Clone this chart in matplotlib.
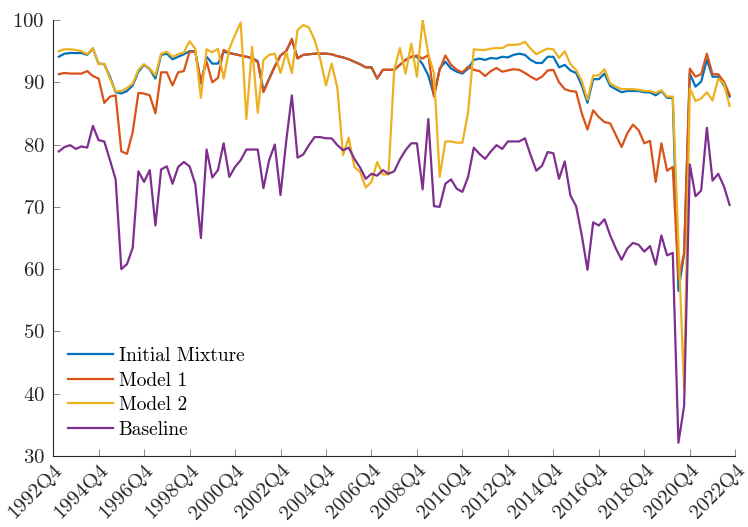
import numpy as np
import matplotlib
matplotlib.use("Agg")
import matplotlib.pyplot as plt

# Dati trimestrali 1993Q1 - 2022Q3
primo_anno = 1993
n_trim = 119

initial_mixture = [
    94.1, 94.6, 94.7, 94.7, 94.7, 94.4, 95.4, 93.0, 92.9, 90.9,
    88.4, 88.2, 88.6, 89.5, 91.7, 92.8, 92.1, 90.6, 94.4, 94.6,
    93.7, 94.1, 94.5, 95.0, 95.0, 89.8, 94.1, 93.0, 93.0, 94.9,
    94.7, 94.5, 94.3, 94.1, 93.9, 93.4, 88.6, 90.6, 92.6, 94.3,
    95.0, 96.8, 93.9, 94.4, 94.5, 94.6, 94.6, 94.6, 94.5, 94.2,
    94.0, 93.7, 93.3, 92.9, 92.4, 92.4, 90.6, 92.0, 92.0, 92.0,
    92.8, 93.6, 94.1, 94.1, 92.9, 91.1, 87.9, 92.2, 93.3, 92.2,
    91.7, 91.4, 92.2, 93.6, 93.8, 93.6, 93.9, 93.8, 94.1, 94.0,
    94.4, 94.6, 94.4, 93.6, 93.1, 93.1, 94.1, 94.1, 92.4, 92.8,
    91.9, 91.5, 89.5, 86.7, 90.5, 90.5, 91.4, 89.4, 88.9, 88.4,
    88.6, 88.6, 88.6, 88.4, 88.4, 87.9, 88.6, 87.5, 87.5, 56.5,
    62.5, 91.4, 89.3, 90.1, 93.6, 90.9, 90.9, 89.5, 87.7,
]

model1 = [
    91.3, 91.5, 91.4, 91.4, 91.4, 91.8, 91.0, 90.6, 86.7, 87.7,
    87.9, 78.9, 78.5, 82.0, 88.3, 88.2, 87.9, 85.0, 91.6, 91.6,
    89.5, 91.6, 91.8, 94.9, 94.9, 90.1, 93.3, 90.0, 90.7, 95.2,
    94.7, 94.5, 94.3, 94.1, 93.9, 93.2, 88.4, 90.5, 92.5, 94.3,
    95.0, 97.0, 93.8, 94.4, 94.5, 94.6, 94.6, 94.6, 94.5, 94.2,
    94.0, 93.7, 93.3, 92.9, 92.4, 92.4, 90.6, 92.0, 92.0, 92.0,
    92.8, 93.6, 94.1, 94.3, 93.8, 94.4, 87.7, 92.0, 94.3, 92.8,
    92.0, 91.6, 92.5, 92.0, 91.8, 91.0, 91.8, 92.3, 91.7, 91.9,
    92.1, 92.0, 91.5, 90.9, 90.4, 90.9, 91.9, 92.0, 90.0, 88.9,
    88.6, 88.5, 85.0, 82.4, 85.5, 84.4, 83.6, 83.4, 81.5, 79.6,
    81.8, 83.2, 82.3, 80.2, 80.6, 74.0, 80.2, 75.8, 76.4, 58.5,
    62.5, 92.2, 90.9, 91.3, 94.6, 91.3, 91.3, 90.1, 88.0,
]

model2 = [
    95.0, 95.3, 95.3, 95.2, 95.0, 94.5, 95.5, 92.9, 93.0, 90.6,
    88.5, 88.6, 89.1, 89.8, 92.0, 92.9, 92.2, 91.1, 94.6, 94.9,
    94.1, 94.5, 94.8, 96.6, 95.4, 87.5, 95.3, 94.8, 95.4, 90.6,
    95.4, 97.6, 99.6, 84.1, 95.7, 85.1, 93.6, 94.4, 94.6, 91.5,
    94.8, 91.5, 98.4, 99.2, 98.8, 96.8, 93.7, 89.5, 93.0, 89.1,
    78.3, 81.1, 76.4, 75.6, 73.1, 74.0, 77.2, 75.2, 75.2, 92.0,
    95.5, 91.4, 96.2, 90.9, 100.0, 94.5, 91.4, 74.8, 80.5, 80.5,
    80.3, 80.3, 85.2, 95.3, 95.2, 95.2, 95.4, 95.5, 95.5, 96.0,
    96.0, 96.1, 96.5, 95.4, 94.5, 95.0, 95.4, 95.3, 93.9, 95.0,
    92.9, 92.0, 90.2, 87.2, 91.1, 91.1, 92.1, 89.8, 89.3, 88.9,
    88.9, 88.9, 88.8, 88.6, 88.6, 88.3, 88.7, 87.7, 87.7, 64.0,
    40.8, 89.0, 87.0, 87.4, 88.4, 87.1, 90.6, 89.8, 86.2,
]

baseline = [
    78.9, 79.6, 79.9, 79.3, 79.7, 79.5, 83.0, 80.7, 80.5, 77.5,
    74.4, 60.0, 60.8, 63.4, 75.7, 74.0, 75.9, 67.0, 76.0, 76.5,
    73.7, 76.4, 77.2, 76.5, 73.7, 65.0, 79.2, 74.7, 75.9, 80.2,
    74.8, 76.4, 77.5, 79.2, 79.2, 79.2, 73.0, 77.5, 80.0, 71.9,
    80.5, 87.9, 77.9, 78.4, 79.9, 81.2, 81.2, 81.0, 81.0, 79.9,
    79.1, 79.5, 77.7, 76.3, 74.5, 75.3, 75.0, 75.9, 75.3, 75.7,
    77.6, 79.1, 80.2, 80.2, 72.8, 84.1, 70.1, 70.0, 73.7, 74.4,
    72.9, 72.4, 74.8, 79.5, 78.5, 77.7, 78.9, 79.9, 79.3, 80.5,
    80.5, 80.5, 81.0, 78.3, 75.8, 76.6, 78.8, 78.6, 74.5, 77.3,
    71.8, 70.1, 65.4, 59.9, 67.5, 67.0, 68.0, 65.4, 63.3, 61.5,
    63.3, 64.2, 63.9, 62.8, 63.7, 60.7, 65.4, 62.2, 62.6, 32.1,
    38.0, 76.8, 71.7, 72.6, 82.7, 74.2, 75.3, 73.3, 70.3,
]

etichette = ["1992Q4", "1994Q4", "1996Q4", "1998Q4", "2000Q4", "2002Q4",
             "2004Q4", "2006Q4", "2008Q4", "2010Q4", "2012Q4", "2014Q4",
             "2016Q4", "2018Q4", "2020Q4", "2022Q4"]

# asse x: indice del trimestre (0 = 1993Q1)
t = np.arange(n_trim)
pos_tick = np.arange(-1, n_trim + 1, 8)

plt.rcParams['font.family'] = ['cmr10', 'DejaVu Serif']
plt.rcParams['axes.formatter.use_mathtext'] = True

fig = plt.figure(figsize=(7.48, 5.27), dpi=100)
ax = fig.add_axes([0.071, 0.135, 0.912, 0.827])

ax.plot(t, initial_mixture, color='#0072BD', lw=1.6, label='Initial Mixture')
ax.plot(t, model1, color='#D95319', lw=1.6, label='Model 1')
ax.plot(t, model2, color='#EDB120', lw=1.6, label='Model 2')
ax.plot(t, baseline, color='#7E2F8E', lw=1.6, label='Baseline')

ax.set_xlim(-1, n_trim)
ax.set_ylim(30, 100)
ax.set_yticks(np.arange(30, 101, 10))
ax.set_xticks(pos_tick)
ax.set_xticklabels(etichette, rotation=45, ha='right', rotation_mode='anchor')

for s in ['top', 'right']:
    ax.spines[s].set_visible(False)
for s in ['left', 'bottom']:
    ax.spines[s].set_color('#262626')
    ax.spines[s].set_linewidth(0.8)
ax.tick_params(direction='in', length=5, width=0.6, color='#777777',
               labelsize=15, labelcolor='#262626')
ax.tick_params(axis='y', pad=6)
ax.tick_params(axis='x', pad=4)

ax.legend(loc='lower left', bbox_to_anchor=(0.005, 0.012), frameon=False,
          fontsize=14, handlelength=2.3, handletextpad=0.3, labelspacing=0.35,
          borderaxespad=0.2)

plt.savefig('out.png', dpi=100)
